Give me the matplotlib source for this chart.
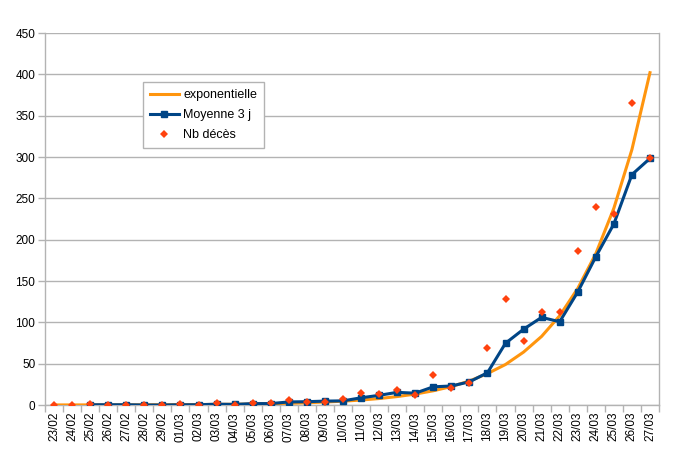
import numpy as np
import matplotlib
matplotlib.use('Agg')
import matplotlib.pyplot as plt

plt.rcParams['font.family'] = ['Liberation Sans', 'DejaVu Sans']

dates = ['23/02', '24/02', '25/02', '26/02', '27/02', '28/02', '29/02',
         '01/03', '02/03', '03/03', '04/03', '05/03', '06/03', '07/03',
         '08/03', '09/03', '10/03', '11/03', '12/03', '13/03', '14/03',
         '15/03', '16/03', '17/03', '18/03', '19/03', '20/03', '21/03',
         '22/03', '23/03', '24/03', '25/03', '26/03', '27/03']

nb_deces = [0, 0, 1, 0, 0, 0, 0, 1, 0, 2, 0, 3, 2, 6, 4, 4, 7, 15, 13, 18, 12,
            36, 21, 27, 69, 128, 78, 112, 112, 186, 240, 231, 365, 299]

moyenne_3j = [np.nan, np.nan, 0.3, 0.3, 0.3, 0, 0, 0.3, 0.3, 1, 0.7, 1.7, 1.7,
              3.7, 4, 4.7, 5, 8.7, 11.7, 15.3, 14.3, 22, 23, 28, 39, 74.7,
              91.7, 106, 100.7, 136.7, 179.3, 219, 278.7, 298.3]

exponentielle = [0.07, 0.09, 0.12, 0.15, 0.2, 0.26, 0.33, 0.43, 0.56, 0.73,
                 0.95, 1.2, 1.6, 2.1, 2.7, 3.6, 4.6, 6.0, 7.8, 10.2, 13.2,
                 17.2, 22.3, 29, 38, 49, 64, 83, 108, 141, 183, 238, 309, 402]

grey = '#b3b3b3'
x = np.arange(len(dates))

fig = plt.figure(figsize=(6.8, 4.69), dpi=100)
ax = fig.add_axes([45 / 680, 1 - 405 / 469, 614 / 680, 372 / 469])

ax.plot(x, exponentielle, color='#ff950e', lw=2.2, label='exponentielle', zorder=3)
ax.plot(x, moyenne_3j, color='#004586', lw=2.2, marker='s', ms=4,
        label='Moyenne 3 j', zorder=4)
ax.plot(x, nb_deces, ls='none', marker='D', ms=4.5, color='#ff420e',
        markeredgewidth=0, label='Nb décès', zorder=5)

ax.set_xlim(-0.5, len(dates) - 0.5)
ax.set_ylim(0, 450)
ax.set_yticks(range(0, 451, 50))
ax.yaxis.grid(True, color=grey, lw=1)
ax.set_axisbelow(True)

ax.set_xticks(x)
ax.set_xticklabels(dates, rotation=90)
ax.tick_params(axis='x', length=0, pad=5, labelsize=8.5)
ax.set_xticks(np.arange(-0.5, len(dates)), minor=True)
ax.tick_params(axis='x', which='minor', length=5, color=grey, width=1)
ax.tick_params(axis='y', length=5, color=grey, width=1, labelsize=8.5, pad=2)

for s in ['left', 'bottom', 'right']:
    ax.spines[s].set_color(grey)
    ax.spines[s].set_linewidth(1)
ax.spines['top'].set_visible(False)

leg = ax.legend(loc='upper left', bbox_to_anchor=(0.16, 0.868), borderaxespad=0,
                fancybox=False, edgecolor=grey, fontsize=9, handlelength=2.3,
                handletextpad=0.35, labelspacing=0.65, borderpad=0.55,
                framealpha=1)
leg.get_frame().set_linewidth(1)

plt.savefig('out.png', dpi=100, facecolor='white')
